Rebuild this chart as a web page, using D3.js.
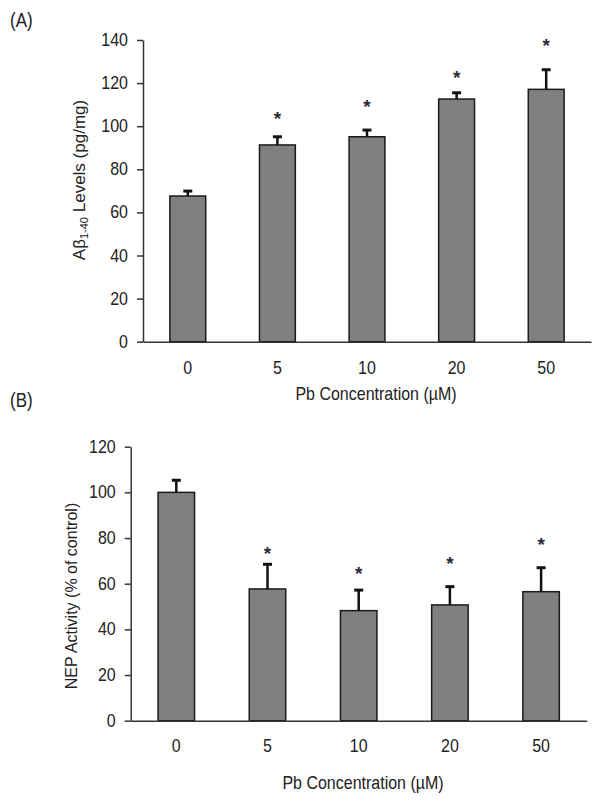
<!DOCTYPE html>
<html><head><meta charset="utf-8">
<script src="https://cdn.jsdelivr.net/npm/d3@7"></script>
<style>body{margin:0;background:#fff}text{font-family:"Liberation Sans",Arial,sans-serif;fill:#222}</style>
</head><body><svg id="c" width="602" height="803"></svg>
<script>
const categories = ["0","5","10","20","50"];
const abetaValues = [67.6, 91.3, 95.1, 112.6, 117.1];
const abetaErrors = [2.3, 3.8, 3.1, 2.9, 9.1];
const abetaStars = [null, 104.4, 109.9, 123.4, 138];
const abetaTicks = [0,20,40,60,80,100,120,140];
const nepValues = [100, 57.7, 48.2, 50.7, 56.5];
const nepErrors = [5.3, 10.8, 9.0, 8.0, 10.5];
const nepStars = [null, 73.8, 65, 69.6, 77.7];
const nepTicks = [0,20,40,60,80,100,120];

const svg = d3.select("#c");
const SY = 1.15;

function panel(cfg){
  const g = svg.append("g");
  const x = d3.scaleBand().domain(categories).range([cfg.x0, cfg.x1]).paddingInner(0.6).paddingOuter(0.3);
  const y = d3.scaleLinear().domain([0, cfg.max]).range([cfg.y0, cfg.y1]);
  g.selectAll("rect.bar").data(cfg.values).enter().append("rect")
    .attr("x",(d,i)=>x(categories[i])).attr("width",x.bandwidth())
    .attr("y",d=>y(d)).attr("height",d=>y(0)-y(d))
    .attr("fill","#808080").attr("stroke","#1a1a1a").attr("stroke-width",1.5);
  const cx = i => x(categories[i]) + x.bandwidth()/2;
  g.selectAll("line.err").data(cfg.values).enter().append("line")
    .attr("x1",(d,i)=>cx(i)).attr("x2",(d,i)=>cx(i))
    .attr("y1",d=>y(d)).attr("y2",(d,i)=>y(d+cfg.errors[i]))
    .attr("stroke","#111").attr("stroke-width",2.5);
  g.selectAll("line.cap").data(cfg.values).enter().append("line")
    .attr("x1",(d,i)=>cx(i)-4.5).attr("x2",(d,i)=>cx(i)+4.5)
    .attr("y1",(d,i)=>y(d+cfg.errors[i])).attr("y2",(d,i)=>y(d+cfg.errors[i]))
    .attr("stroke","#111").attr("stroke-width",3);
  cfg.stars.forEach((s,i)=>{
    if(s===null) return;
    g.append("text").attr("x",cx(i)).attr("y",y(s)+8)
      .attr("text-anchor","middle").attr("font-size",19).attr("font-weight","bold").style("fill","#2a2a3a").text("*");
  });
  const ya = g.append("g").attr("transform",`translate(${cfg.x0},0)`)
    .call(d3.axisLeft(y).tickValues(cfg.ticks).tickSize(6).tickSizeOuter(0).tickPadding(9));
  ya.select(".domain").attr("stroke","#333").attr("stroke-width",1.5);
  ya.selectAll(".tick line").attr("stroke","#333").attr("stroke-width",1.5);
  ya.selectAll(".tick text").attr("font-size",16).attr("font-family","Liberation Sans, Arial, sans-serif").style("fill","#222")
    .attr("dy",null).attr("y",5.5/SY).attr("transform",`scale(1,${SY})`);
  const xa = g.append("g").attr("transform",`translate(0,${cfg.y0})`)
    .call(d3.axisBottom(x).tickSize(0).tickPadding(0));
  xa.select(".domain").attr("stroke","#333").attr("stroke-width",1.5);
  xa.selectAll(".tick text").attr("font-size",16).attr("font-family","Liberation Sans, Arial, sans-serif").style("fill","#222")
    .attr("dy",null).attr("y",cfg.xtick/SY).attr("transform",`scale(1,${SY})`);
  g.append("text").attr("transform",`translate(${cfg.xtX},${cfg.xtY}) scale(1,${SY})`).attr("text-anchor","middle").attr("font-size",16).text("Pb Concentration (µM)");
  const yt = g.append("text").attr("transform",`translate(${cfg.ytX},${cfg.ytY}) rotate(-90)`).attr("text-anchor","middle").attr("font-size",cfg.ytSize);
  cfg.ytitle(yt);
  g.append("text").attr("transform",`translate(10,${cfg.labY}) scale(1,${SY})`).attr("font-size",17).text(cfg.label);
}

panel({x0:143,x1:591,y0:341.7,y1:40,max:140,values:abetaValues,errors:abetaErrors,stars:abetaStars,ticks:abetaTicks,
  xtick:32,xtX:376,xtY:400,ytX:85,ytY:180,ytSize:17,labY:27,label:"(A)",
  ytitle:t=>{t.append("tspan").text("Aβ");t.append("tspan").attr("font-size",11).attr("dy",3).text("1-40");t.append("tspan").attr("dy",-3).text(" Levels (pg/mg)");}});
panel({x0:130.7,x1:586.7,y0:720.7,y1:446.7,max:120,values:nepValues,errors:nepErrors,stars:nepStars,ticks:nepTicks,
  xtick:31,xtX:363,xtY:789,ytX:77,ytY:596,ytSize:16,labY:407,label:"(B)",
  ytitle:t=>{t.text("NEP Activity (% of control)");}});
</script></body></html>
